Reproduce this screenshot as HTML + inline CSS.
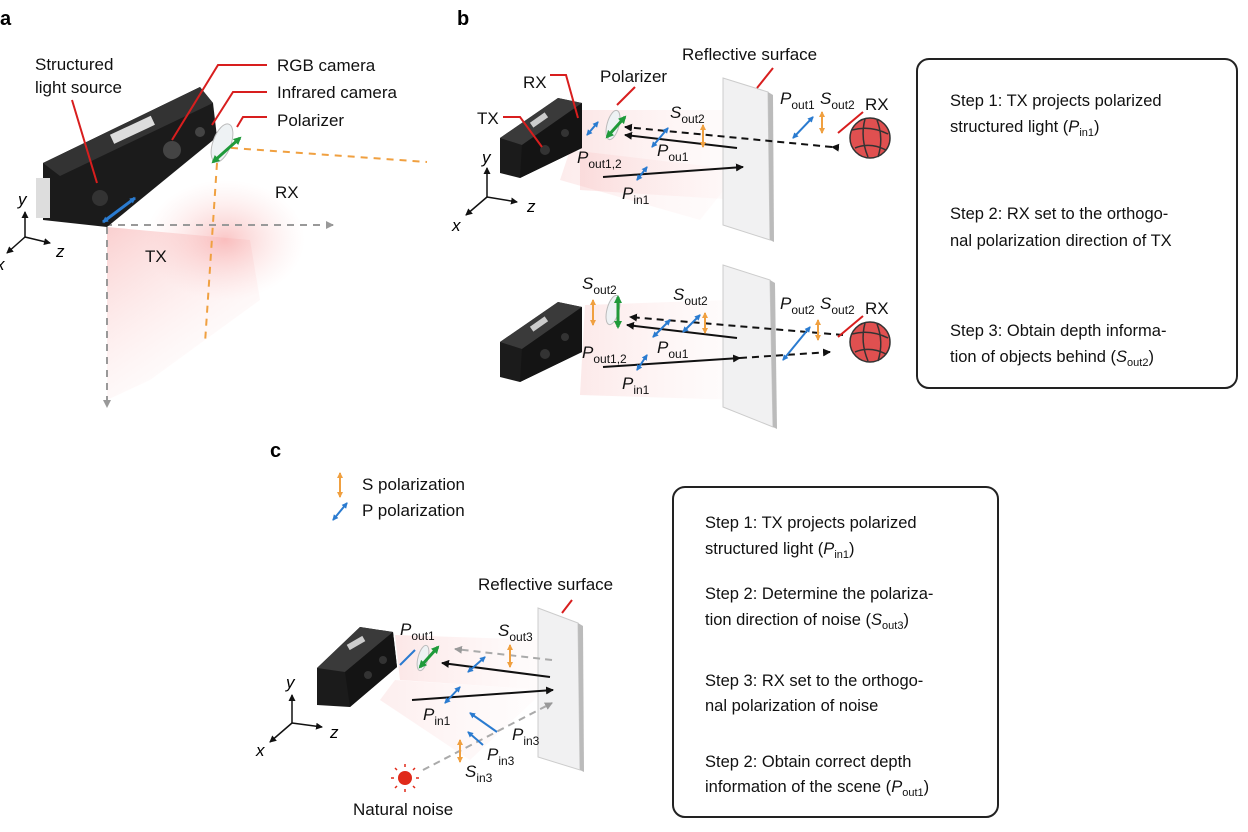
<!DOCTYPE html>
<html><head><meta charset="utf-8"><style>
html,body{margin:0;padding:0;background:#fff;}
svg{display:block;font-family:"Liberation Sans",Arial,sans-serif;}
</style></head><body>
<svg width="1248" height="832" viewBox="0 0 1248 832" xmlns="http://www.w3.org/2000/svg">
<defs>
<radialGradient id="pk" cx="0.5" cy="0.5" r="0.5"><stop offset="0" stop-color="#f7a0a0" stop-opacity="0.6"/><stop offset="1" stop-color="#fbd0d0" stop-opacity="0"/></radialGradient>
<linearGradient id="cone" x1="0" y1="0" x2="1" y2="0"><stop offset="0" stop-color="#f4a8a8" stop-opacity="0.55"/><stop offset="1" stop-color="#fbd6d6" stop-opacity="0.15"/></linearGradient>
<linearGradient id="coneA" x1="0" y1="0" x2="0.6" y2="1"><stop offset="0" stop-color="#f7b0b0" stop-opacity="0.6"/><stop offset="1" stop-color="#fde4e4" stop-opacity="0"/></linearGradient>
<marker id="ak" markerWidth="8" markerHeight="8" refX="7" refY="4" orient="auto" markerUnits="userSpaceOnUse"><path d="M0,0 L8,4 L0,8 z" fill="#111"/></marker>
<marker id="ag" markerWidth="8" markerHeight="8" refX="7" refY="4" orient="auto" markerUnits="userSpaceOnUse"><path d="M0,0 L8,4 L0,8 z" fill="#999"/></marker>
<marker id="ab" markerWidth="6" markerHeight="6" refX="5" refY="3" orient="auto-start-reverse" markerUnits="userSpaceOnUse"><path d="M0,0 L6,3 L0,6 z" fill="#2a7bd0"/></marker>
<marker id="ao" markerWidth="6" markerHeight="6" refX="5" refY="3" orient="auto-start-reverse" markerUnits="userSpaceOnUse"><path d="M0,0 L6,3 L0,6 z" fill="#f0a040"/></marker>
<marker id="agr" markerWidth="8" markerHeight="8" refX="6" refY="4" orient="auto-start-reverse" markerUnits="userSpaceOnUse"><path d="M0,0 L8,4 L0,8 z" fill="#1f9a3a"/></marker>
<marker id="ax" markerWidth="7" markerHeight="7" refX="6" refY="3.5" orient="auto" markerUnits="userSpaceOnUse"><path d="M0,0 L7,3.5 L0,7 z" fill="#111"/></marker>
</defs>

<!-- ================= PANEL A ================= -->
<text x="0" y="25" font-size="20" font-weight="bold">a</text>
<polygon points="107,227 107,400 150,380 260,300 250,240" fill="url(#coneA)"/>
<ellipse cx="225" cy="240" rx="80" ry="60" fill="url(#pk)"/>
<line x1="105" y1="225" x2="333" y2="225" stroke="#999" stroke-width="2" stroke-dasharray="7,6" marker-end="url(#ag)"/>
<line x1="107" y1="227" x2="107" y2="407" stroke="#999" stroke-width="2" stroke-dasharray="7,6" marker-end="url(#ag)"/>
<line x1="218" y1="147" x2="427" y2="162" stroke="#f0a040" stroke-width="2" stroke-dasharray="7,6"/>
<line x1="217" y1="163" x2="205" y2="343" stroke="#f0a040" stroke-width="2" stroke-dasharray="7,6"/>
<polygon points="43,163 200,87 213,103 217,137 107,227 43,220" fill="#1b1b1b"/>
<polygon points="43,163 200,87 213,103 60,176" fill="#333"/>
<rect x="110" y="125" width="45" height="10" fill="#ddd" transform="rotate(-25 132 130)"/>
<circle cx="172" cy="150" r="9" fill="#444"/>
<circle cx="200" cy="132" r="5" fill="#444"/>
<circle cx="100" cy="198" r="8" fill="#333"/>
<rect x="36" y="178" width="14" height="40" fill="#ddd"/>
<ellipse cx="222" cy="143" rx="9" ry="20" fill="#eef2f4" stroke="#bbb" transform="rotate(20 222 143)"/>
<line x1="213" y1="162" x2="240" y2="138" stroke="#1f9a3a" stroke-width="3" marker-start="url(#agr)" marker-end="url(#agr)"/>
<line x1="103" y1="222" x2="135" y2="198" stroke="#2a7bd0" stroke-width="3" marker-start="url(#ab)" marker-end="url(#ab)"/>
<g font-size="17" fill="#111">
<text x="35" y="70">Structured</text><text x="35" y="93">light source</text>
<text x="277" y="71">RGB camera</text><text x="277" y="98">Infrared camera</text><text x="277" y="126">Polarizer</text>
<text x="275" y="198">RX</text><text x="145" y="262">TX</text>
</g>
<g stroke="#d81e1e" stroke-width="2" fill="none">
<polyline points="72,100 97,183"/>
<polyline points="267,65 218,65 172,140"/>
<polyline points="267,92 233,92 212,125"/>
<polyline points="267,117 243,117 237,127"/>
</g>
<g stroke="#111" stroke-width="1.5">
<line x1="25" y1="237" x2="25" y2="212" marker-end="url(#ax)"/>
<line x1="25" y1="237" x2="50" y2="243" marker-end="url(#ax)"/>
<line x1="25" y1="237" x2="7" y2="253" marker-end="url(#ax)"/>
</g>
<g font-size="17" font-style="italic"><text x="18" y="205">y</text><text x="56" y="257">z</text><text x="-4" y="270">x</text></g>

<!-- ================= PANEL B ================= -->
<text x="457" y="25" font-size="20" font-weight="bold">b</text>
<polygon points="580,110 730,110 740,200 580,190" fill="url(#cone)" opacity="0.5"/>
<polygon points="570,150 740,170 700,220 560,180" fill="url(#cone)" opacity="0.4"/>
<polygon points="723,78 768,92 770,240 723,225" fill="#f1f1f2" stroke="#ccc"/>
<polygon points="768,92 773,95 774,242 770,240" fill="#bbb"/>
<polygon points="500,138 558,98 582,103 582,148 520,178 500,173" fill="#1b1b1b"/>
<polygon points="500,138 558,98 582,103 522,145" fill="#3a3a3a"/>
<polygon points="522,145 582,103 582,148 520,178" fill="#141414"/>
<rect x="530" y="117" width="18" height="6" fill="#ccc" transform="rotate(-35 539 120)"/>
<circle cx="545" cy="150" r="5" fill="#333"/><circle cx="565" cy="133" r="4" fill="#333"/>
<line x1="832" y1="147" x2="625" y2="127" stroke="#111" stroke-width="2" stroke-dasharray="7,5" marker-start="url(#ak)" marker-end="url(#ak)"/>
<line x1="737" y1="148" x2="625" y2="135" stroke="#111" stroke-width="2" marker-end="url(#ak)"/>
<line x1="603" y1="177" x2="743" y2="167" stroke="#111" stroke-width="2" marker-end="url(#ak)"/>
<ellipse cx="613" cy="125" rx="6" ry="15" fill="#eef2f4" stroke="#bbb" transform="rotate(15 613 125)"/>
<line x1="607" y1="137" x2="625" y2="117" stroke="#1f9a3a" stroke-width="3" marker-start="url(#agr)" marker-end="url(#agr)"/>
<g stroke="#2a7bd0" stroke-width="2">
<line x1="587" y1="135" x2="598" y2="122" marker-start="url(#ab)" marker-end="url(#ab)"/>
<line x1="652" y1="147" x2="668" y2="128" marker-start="url(#ab)" marker-end="url(#ab)"/>
<line x1="637" y1="180" x2="647" y2="167" marker-start="url(#ab)" marker-end="url(#ab)"/>
<line x1="793" y1="138" x2="813" y2="117" marker-start="url(#ab)" marker-end="url(#ab)"/>
</g>
<g stroke="#f0a040" stroke-width="2">
<line x1="703" y1="125" x2="703" y2="147" marker-start="url(#ao)" marker-end="url(#ao)"/>
<line x1="822" y1="112" x2="822" y2="133" marker-start="url(#ao)" marker-end="url(#ao)"/>
</g>
<circle cx="870" cy="138" r="20" fill="#e05050" stroke="#333" stroke-width="1.5"/>
<path d="M852,130 Q870,125 888,134 M855,148 Q870,142 886,150 M865,119 Q860,138 868,157 M877,120 Q884,138 878,157" stroke="#333" stroke-width="1.5" fill="none"/>
<g stroke="#d81e1e" stroke-width="2" fill="none">
<polyline points="550,75 566,75 578,118"/>
<polyline points="503,117 520,117 542,147"/>
<polyline points="635,87 617,105"/>
<polyline points="773,68 757,88"/>
<polyline points="863,112 838,133"/>
</g>
<g font-size="17" fill="#111">
<text x="523" y="88">RX</text><text x="600" y="82">Polarizer</text><text x="682" y="60">Reflective surface</text>
<text x="477" y="124">TX</text><text x="865" y="110">RX</text>
<text x="670" y="118" font-style="italic">S<tspan font-size="12" dy="5" font-style="normal">out2</tspan></text>
<text x="780" y="104" font-style="italic">P<tspan font-size="12" dy="5" font-style="normal">out1</tspan></text>
<text x="820" y="104" font-style="italic">S<tspan font-size="12" dy="5" font-style="normal">out2</tspan></text>
<text x="577" y="163" font-style="italic">P<tspan font-size="12" dy="5" font-style="normal">out1,2</tspan></text>
<text x="657" y="156" font-style="italic">P<tspan font-size="12" dy="5" font-style="normal">ou1</tspan></text>
<text x="622" y="199" font-style="italic">P<tspan font-size="12" dy="5" font-style="normal">in1</tspan></text>
</g>
<g stroke="#111" stroke-width="1.5">
<line x1="487" y1="197" x2="487" y2="168" marker-end="url(#ax)"/>
<line x1="487" y1="197" x2="517" y2="202" marker-end="url(#ax)"/>
<line x1="487" y1="197" x2="466" y2="215" marker-end="url(#ax)"/>
</g>
<g font-size="17" font-style="italic"><text x="482" y="163">y</text><text x="527" y="212">z</text><text x="452" y="231">x</text></g>

<!-- b row 2 -->
<polygon points="585,305 730,300 740,400 580,395" fill="url(#cone)" opacity="0.45"/>
<polygon points="723,265 770,280 773,427 723,407" fill="#f1f1f2" stroke="#ccc"/>
<polygon points="770,280 775,283 777,429 773,427" fill="#bbb"/>
<polygon points="500,342 558,302 582,307 582,352 520,382 500,377" fill="#1b1b1b"/>
<polygon points="500,342 558,302 582,307 522,349" fill="#3a3a3a"/>
<polygon points="522,349 582,307 582,352 520,382" fill="#141414"/>
<rect x="530" y="321" width="18" height="6" fill="#ccc" transform="rotate(-35 539 324)"/>
<circle cx="545" cy="354" r="5" fill="#333"/><circle cx="565" cy="337" r="4" fill="#333"/>
<line x1="843" y1="335" x2="630" y2="317" stroke="#111" stroke-width="2" stroke-dasharray="7,5" marker-end="url(#ak)"/>
<line x1="737" y1="338" x2="627" y2="325" stroke="#111" stroke-width="2" marker-end="url(#ak)"/>
<line x1="603" y1="367" x2="740" y2="358" stroke="#111" stroke-width="2" marker-end="url(#ak)"/>
<line x1="740" y1="358" x2="830" y2="352" stroke="#111" stroke-width="2" stroke-dasharray="7,5" marker-end="url(#ak)"/>
<ellipse cx="613" cy="310" rx="6" ry="15" fill="#eef2f4" stroke="#bbb" transform="rotate(15 613 310)"/>
<line x1="618" y1="297" x2="618" y2="327" stroke="#1f9a3a" stroke-width="3" marker-start="url(#agr)" marker-end="url(#agr)"/>
<g stroke="#f0a040" stroke-width="2">
<line x1="593" y1="300" x2="593" y2="325" marker-start="url(#ao)" marker-end="url(#ao)"/>
<line x1="705" y1="313" x2="705" y2="333" marker-start="url(#ao)" marker-end="url(#ao)"/>
<line x1="818" y1="320" x2="818" y2="340" marker-start="url(#ao)" marker-end="url(#ao)"/>
</g>
<g stroke="#2a7bd0" stroke-width="2">
<line x1="653" y1="337" x2="670" y2="320" marker-start="url(#ab)" marker-end="url(#ab)"/>
<line x1="683" y1="332" x2="700" y2="315" marker-start="url(#ab)" marker-end="url(#ab)"/>
<line x1="637" y1="370" x2="647" y2="355" marker-start="url(#ab)" marker-end="url(#ab)"/>
<line x1="783" y1="360" x2="810" y2="327" marker-start="url(#ab)" marker-end="url(#ab)"/>
</g>
<circle cx="870" cy="342" r="20" fill="#e05050" stroke="#333" stroke-width="1.5"/>
<path d="M852,334 Q870,329 888,338 M855,352 Q870,346 886,354 M865,323 Q860,342 868,361 M877,324 Q884,342 878,361" stroke="#333" stroke-width="1.5" fill="none"/>
<line x1="863" y1="316" x2="838" y2="337" stroke="#d81e1e" stroke-width="2"/>
<g font-size="17" fill="#111">
<text x="865" y="314">RX</text>
<text x="582" y="289" font-style="italic">S<tspan font-size="12" dy="5" font-style="normal">out2</tspan></text>
<text x="673" y="300" font-style="italic">S<tspan font-size="12" dy="5" font-style="normal">out2</tspan></text>
<text x="780" y="309" font-style="italic">P<tspan font-size="12" dy="5" font-style="normal">out2</tspan></text>
<text x="820" y="309" font-style="italic">S<tspan font-size="12" dy="5" font-style="normal">out2</tspan></text>
<text x="582" y="358" font-style="italic">P<tspan font-size="12" dy="5" font-style="normal">out1,2</tspan></text>
<text x="657" y="353" font-style="italic">P<tspan font-size="12" dy="5" font-style="normal">ou1</tspan></text>
<text x="622" y="389" font-style="italic">P<tspan font-size="12" dy="5" font-style="normal">in1</tspan></text>
</g>

<rect x="917" y="59" width="320" height="329" rx="12" fill="none" stroke="#222" stroke-width="2"/>
<g font-size="16.5" fill="#111">
<text x="950" y="106">Step 1: TX projects polarized</text>
<text x="950" y="132">structured light (<tspan font-style="italic">P</tspan><tspan font-size="11" dy="4">in1</tspan><tspan dy="-4">)</tspan></text>
<text x="950" y="219">Step 2: RX set to the orthogo-</text>
<text x="950" y="246">nal polarization direction of TX</text>
<text x="950" y="336">Step 3: Obtain depth informa-</text>
<text x="950" y="362">tion of objects behind (<tspan font-style="italic">S</tspan><tspan font-size="11" dy="4">out2</tspan><tspan dy="-4">)</tspan></text>
</g>

<!-- ================= PANEL C ================= -->
<text x="270" y="457" font-size="20" font-weight="bold">c</text>
<line x1="340" y1="473" x2="340" y2="497" stroke="#f0a040" stroke-width="2" marker-start="url(#ao)" marker-end="url(#ao)"/>
<line x1="333" y1="520" x2="347" y2="503" stroke="#2a7bd0" stroke-width="2" marker-start="url(#ab)" marker-end="url(#ab)"/>
<g font-size="17" fill="#111"><text x="362" y="490">S polarization</text><text x="362" y="516">P polarization</text></g>

<polygon points="395,635 545,640 545,690 400,680" fill="url(#cone)" opacity="0.5"/>
<polygon points="395,680 545,690 470,760 380,700" fill="url(#cone)" opacity="0.35"/>
<polygon points="538,608 578,623 580,770 538,757" fill="#f1f1f2" stroke="#ccc"/>
<polygon points="578,623 583,626 584,772 580,770" fill="#bbb"/>
<polygon points="317,668 360,627 393,632 397,667 350,707 317,705" fill="#1b1b1b"/>
<polygon points="317,668 360,627 393,632 345,672" fill="#3a3a3a"/>
<polygon points="345,672 393,632 397,667 350,707" fill="#141414"/>
<rect x="347" y="640" width="18" height="6" fill="#ccc" transform="rotate(-30 356 643)"/>
<circle cx="368" cy="675" r="4" fill="#333"/><circle cx="383" cy="660" r="4" fill="#333"/>
<line x1="552" y1="660" x2="455" y2="649" stroke="#aaa" stroke-width="2" stroke-dasharray="7,5" marker-end="url(#ag)"/>
<line x1="550" y1="677" x2="442" y2="663" stroke="#111" stroke-width="2" marker-end="url(#ak)"/>
<line x1="412" y1="700" x2="553" y2="690" stroke="#111" stroke-width="2" marker-end="url(#ak)"/>
<line x1="423" y1="770" x2="552" y2="703" stroke="#aaa" stroke-width="2" stroke-dasharray="7,5" marker-end="url(#ag)"/>
<ellipse cx="423" cy="658" rx="5" ry="13" fill="#eef2f4" stroke="#bbb" transform="rotate(15 423 658)"/>
<line x1="420" y1="667" x2="438" y2="647" stroke="#1f9a3a" stroke-width="3" marker-start="url(#agr)" marker-end="url(#agr)"/>
<g stroke="#2a7bd0" stroke-width="2">
<line x1="400" y1="665" x2="415" y2="650"/>
<line x1="468" y1="672" x2="485" y2="657" marker-start="url(#ab)" marker-end="url(#ab)"/>
<line x1="445" y1="703" x2="460" y2="687" marker-start="url(#ab)" marker-end="url(#ab)"/>
<line x1="497" y1="732" x2="470" y2="713" marker-end="url(#ab)"/>
<line x1="483" y1="745" x2="468" y2="732" marker-end="url(#ab)"/>
</g>
<g stroke="#f0a040" stroke-width="2">
<line x1="510" y1="645" x2="510" y2="667" marker-start="url(#ao)" marker-end="url(#ao)"/>
<line x1="460" y1="740" x2="460" y2="762" marker-start="url(#ao)" marker-end="url(#ao)"/>
</g>
<circle cx="405" cy="778" r="7" fill="#e02a1a"/>
<g stroke="#e02a1a" stroke-width="1.5">
<line x1="405" y1="764" x2="405" y2="767"/><line x1="405" y1="789" x2="405" y2="792"/>
<line x1="391" y1="778" x2="394" y2="778"/><line x1="416" y1="778" x2="419" y2="778"/>
<line x1="395" y1="768" x2="397" y2="770"/><line x1="413" y1="786" x2="415" y2="788"/>
<line x1="395" y1="788" x2="397" y2="786"/><line x1="413" y1="770" x2="415" y2="768"/>
</g>
<line x1="572" y1="600" x2="562" y2="613" stroke="#d81e1e" stroke-width="2"/>
<g font-size="17" fill="#111">
<text x="478" y="590">Reflective surface</text>
<text x="353" y="815">Natural noise</text>
<text x="400" y="635" font-style="italic">P<tspan font-size="12" dy="5" font-style="normal">out1</tspan></text>
<text x="498" y="636" font-style="italic">S<tspan font-size="12" dy="5" font-style="normal">out3</tspan></text>
<text x="423" y="720" font-style="italic">P<tspan font-size="12" dy="5" font-style="normal">in1</tspan></text>
<text x="512" y="740" font-style="italic">P<tspan font-size="12" dy="5" font-style="normal">in3</tspan></text>
<text x="487" y="760" font-style="italic">P<tspan font-size="12" dy="5" font-style="normal">in3</tspan></text>
<text x="465" y="777" font-style="italic">S<tspan font-size="12" dy="5" font-style="normal">in3</tspan></text>
</g>
<g stroke="#111" stroke-width="1.5">
<line x1="292" y1="723" x2="292" y2="695" marker-end="url(#ax)"/>
<line x1="292" y1="723" x2="322" y2="727" marker-end="url(#ax)"/>
<line x1="292" y1="723" x2="270" y2="742" marker-end="url(#ax)"/>
</g>
<g font-size="17" font-style="italic"><text x="286" y="688">y</text><text x="330" y="738">z</text><text x="256" y="756">x</text></g>

<rect x="673" y="487" width="325" height="330" rx="12" fill="none" stroke="#222" stroke-width="2"/>
<g font-size="16.5" fill="#111">
<text x="705" y="528">Step 1: TX projects polarized</text>
<text x="705" y="554">structured light (<tspan font-style="italic">P</tspan><tspan font-size="11" dy="4">in1</tspan><tspan dy="-4">)</tspan></text>
<text x="705" y="599">Step 2: Determine the polariza-</text>
<text x="705" y="625">tion direction of noise (<tspan font-style="italic">S</tspan><tspan font-size="11" dy="4">out3</tspan><tspan dy="-4">)</tspan></text>
<text x="705" y="686">Step 3: RX set to the orthogo-</text>
<text x="705" y="711">nal polarization of noise</text>
<text x="705" y="767">Step 2: Obtain correct depth</text>
<text x="705" y="792">information of the scene (<tspan font-style="italic">P</tspan><tspan font-size="11" dy="4">out1</tspan><tspan dy="-4">)</tspan></text>
</g>
</svg>
</body></html>
